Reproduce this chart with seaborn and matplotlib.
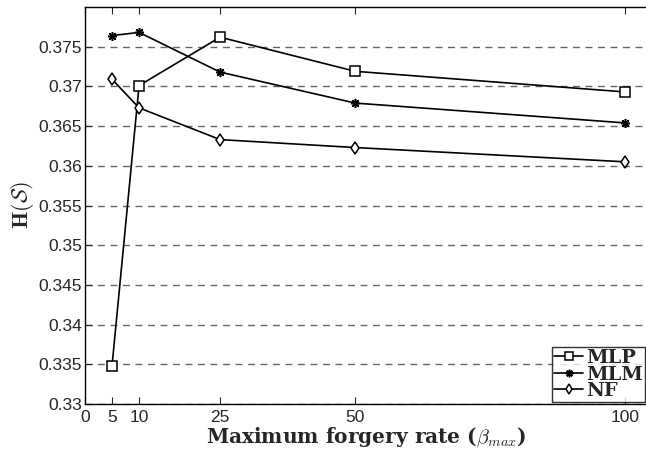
import matplotlib
matplotlib.use("Agg")
import matplotlib.pyplot as plt
import seaborn as sns
from matplotlib.lines import Line2D

# Maximum forgery rate values on the x axis
beta_max = [5, 10, 25, 50, 100]

# H(S) for each method
mlp = [0.3348, 0.3701, 0.3762, 0.3719, 0.3693]
mlm = [0.3764, 0.3768, 0.3718, 0.3679, 0.3654]
nf = [0.3709, 0.3673, 0.3633, 0.3623, 0.3605]

series_names = ["MLP", "MLM", "NF"]
x_ticks = [0, 5, 10, 25, 50, 100]
y_ticks = [0.33, 0.335, 0.34, 0.345, 0.35, 0.355, 0.36, 0.365, 0.37, 0.375]

sns.set_style("white")
plt.rcParams["font.family"] = ["Liberation Sans", "DejaVu Sans"]
plt.rcParams["mathtext.fontset"] = "cm"

fig = plt.figure(figsize=(6.46, 4.5), dpi=100)
ax = fig.add_axes([85 / 646, 46 / 450, 562 / 646, 397 / 450])

markers = {"MLP": "s", "MLM": (8, 2, 0), "NF": "d"}
for name, vals in zip(series_names, [mlp, mlm, nf]):
    sns.lineplot(x=beta_max, y=vals, color="black", linewidth=1.2,
                 marker=markers[name], markersize=6.5,
                 markerfacecolor="white", markeredgecolor="black",
                 markeredgewidth=1.1, ax=ax)

# legend handles with bold serif labels
handles = [Line2D([], [], color="black", lw=1.2, marker=markers[n], markersize=5.5,
                  markerfacecolor="white", markeredgecolor="black", markeredgewidth=1.1)
           for n in series_names]
leg = ax.legend(handles, series_names,
                loc="lower right", handlelength=1.5, handletextpad=0.15,
                labelspacing=-0.08, borderpad=0.1, borderaxespad=0.1,
                frameon=True, fancybox=False, edgecolor="black",
                prop={"family": "DejaVu Serif", "weight": "bold", "size": 14})
leg.get_frame().set_linewidth(1.0)

ax.set_xlim(0, 104)
ax.set_ylim(0.33, 0.38)
ax.set_xticks(x_ticks)
ax.set_yticks(y_ticks)
ax.set_xticklabels([str(t) for t in x_ticks])
ax.set_yticklabels(["%g" % t for t in y_ticks])
ax.tick_params(axis="both", direction="in", labelsize=12.5, length=5, width=0.8,
               top=True, left=True, bottom=True)
ax.tick_params(axis="x", pad=4)
ax.tick_params(axis="y", pad=2)
ax.yaxis.grid(True, linestyle=(0, (5, 4)), color="#666666", linewidth=1.0)
ax.set_axisbelow(True)
for s in ax.spines.values():
    s.set_color("black")
    s.set_linewidth(1.0)

ax.set_xlabel(r"Maximum forgery rate ($\beta_{max}$)", fontsize=14.5,
              fontfamily="DejaVu Serif", fontweight="bold", labelpad=0.5)
ax.set_ylabel(r"$\mathbf{H}(\mathcal{S})$", fontsize=16, labelpad=2)

fig.savefig("out.png", dpi=100)
